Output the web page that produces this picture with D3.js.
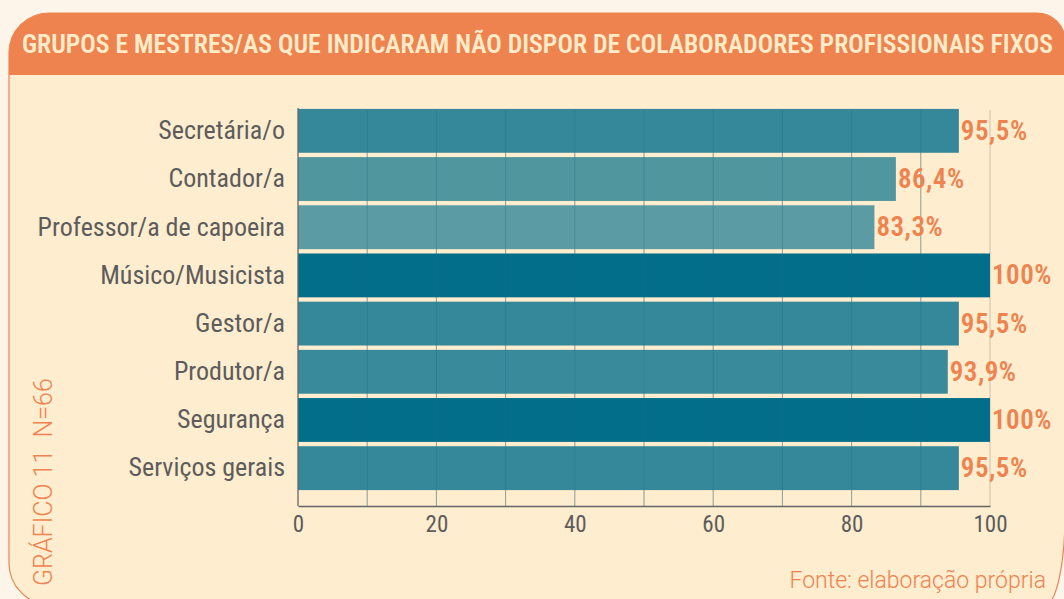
<!DOCTYPE html>
<html>
<head>
<meta charset="utf-8">
<script src="https://cdn.jsdelivr.net/npm/d3@7"></script>
<style>
  body { margin: 0; background: #fdf5ea; }
  svg { display: block; }
  .cond { font-family: Roboto, "Liberation Sans Narrow", sans-serif; font-stretch: 83%; }
</style>
</head>
<body>
<svg id="chart"></svg>
<script>
// data
let categories = ["Secretária/o", "Contador/a", "Professor/a de capoeira", "Músico/Musicista",
                  "Gestor/a", "Produtor/a", "Segurança", "Serviços gerais"]
let values = [95.5, 86.4, 83.3, 100, 95.5, 93.9, 100, 95.5]
let valueLabels = ["95,5%", "86,4%", "83,3%", "100%", "95,5%", "93,9%", "100%", "95,5%"]
let xTicks = [0, 20, 40, 60, 80, 100]
let gridTicks = [10, 20, 30, 40, 50, 60, 70, 80, 90, 100]
let title = "GRUPOS E MESTRES/AS QUE INDICARAM NÃO DISPOR DE COLABORADORES PROFISSIONAIS FIXOS"
let sideNote = "GRÁFICO 11  N=66"
let source = "Fonte: elaboração própria"

let W = 1064, H = 599
let orange = "#ee8350", cream = "#feedcf", grey = "#5c5c5c"

let svg = d3.select("#chart").attr("width", W).attr("height", H)

// panel with uneven rounded corners
let L = 9, T = 13, R = 1065, B = 605
let panel = `M${L},${T + 40} A40,40 0 0 1 ${L + 40},${T}
  L${R - 28},${T} A28,28 0 0 1 ${R},${T + 28}
  L${R},${B - 90} A20,90 0 0 1 ${R - 20},${B}
  L${L + 42},${B} A42,42 0 0 1 ${L},${B - 42} Z`

svg.append("path").attr("d", panel).attr("fill", cream)
    .attr("stroke", orange).attr("stroke-width", 1.2)

// header band clipped to panel
svg.append("clipPath").attr("id", "pclip").append("path").attr("d", panel)
svg.append("rect").attr("x", 0).attr("y", 0).attr("width", W).attr("height", 75)
    .attr("fill", orange).attr("clip-path", "url(#pclip)")

svg.append("text")
    .attr("x", 22).attr("y", 53)
    .attr("textLength", 1031).attr("lengthAdjust", "spacingAndGlyphs")
    .attr("font-family", "Roboto, sans-serif").attr("font-stretch", "75%")
    .attr("font-size", 25).attr("font-weight", 600)
    .attr("fill", "#fdebc9")
    .text(title)

let x = d3.scaleLinear().domain([0, 100]).range([298, 990])
let y = d3.scaleBand().domain(categories).range([106.5, 492.5])
    .paddingInner(0.09).paddingOuter(0.05)

let color = d3.scaleLinear()
    .domain([83.3, 86.4, 95.5, 100])
    .range(["#5b9ca4", "#4f969e", "#34889a", "#026e8a"])

let rows = categories.map((c, i) => ({cat: c, v: values[i], label: valueLabels[i]}))

// grid behind bars
let gTop = 110, gBottom = 506
svg.append("g").selectAll("line").data(gridTicks).join("line")
    .attr("x1", d => x(d)).attr("x2", d => x(d))
    .attr("y1", gTop).attr("y2", gBottom)
    .attr("stroke", "#cdbfa8").attr("stroke-width", 1)

svg.append("g").selectAll("rect").data(rows).join("rect")
    .attr("x", x(0)).attr("y", d => y(d.cat))
    .attr("width", d => x(d.v) - x(0)).attr("height", y.bandwidth())
    .attr("fill", d => color(d.v))

// grid faintly over bars
svg.append("g").selectAll("line").data(gridTicks.filter(d => d < 100)).join("line")
    .attr("x1", d => x(d)).attr("x2", d => x(d))
    .attr("y1", gTop).attr("y2", gBottom)
    .attr("stroke", "#1d6f7e").attr("stroke-opacity", 0.35).attr("stroke-width", 1)

// axes
let xAxis = d3.axisBottom(x).tickValues(xTicks).tickSize(0).tickPadding(10)
let gx = svg.append("g").attr("transform", `translate(0,${gBottom})`).call(xAxis)
gx.select(".domain").attr("stroke", "#666").attr("stroke-width", 1.3)
gx.selectAll("text").attr("class", "cond").attr("font-size", 23).attr("fill", grey)

svg.append("line").attr("x1", x(0)).attr("x2", x(0)).attr("y1", 108).attr("y2", gBottom)
    .attr("stroke", "#666").attr("stroke-width", 1.3)

let yAxis = d3.axisLeft(y).tickSize(0).tickPadding(13)
let gy = svg.append("g").attr("transform", `translate(${x(0)},0)`).call(yAxis)
gy.select(".domain").remove()
gy.selectAll("text").attr("class", "cond").attr("font-size", 26).attr("fill", grey)

// value labels
svg.append("g").selectAll("text").data(rows).join("text")
    .attr("class", "cond")
    .attr("x", d => x(d.v) + 2)
    .attr("y", d => y(d.cat) + y.bandwidth() / 2 + 9)
    .attr("font-size", 27).attr("font-weight", 600)
    .attr("letter-spacing", 0.5)
    .attr("fill", orange)
    .text(d => d.label)

// side note and source
svg.append("text")
    .attr("transform", "translate(52,586) rotate(-90)")
    .attr("font-family", "Roboto, sans-serif").attr("font-weight", 300)
    .attr("font-size", 25).attr("fill", orange)
    .attr("xml:space", "preserve")
    .text(sideNote)

svg.append("text")
    .attr("x", 1046).attr("y", 588).attr("text-anchor", "end")
    .attr("font-family", "Roboto, sans-serif").attr("font-weight", 300)
    .attr("font-size", 23).attr("fill", orange)
    .text(source)
</script>
</body>
</html>
